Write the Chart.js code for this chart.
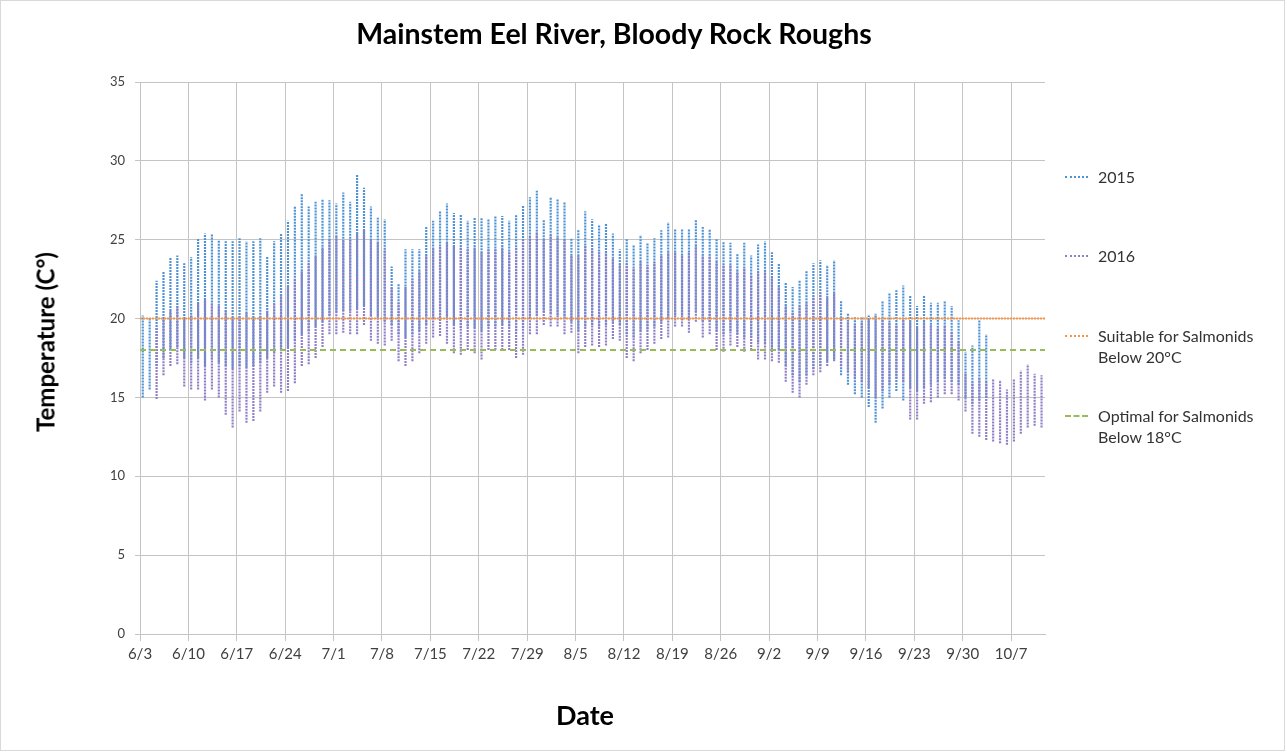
<!DOCTYPE html>
<html>
<head>
<meta charset="utf-8">
<script src="https://cdn.jsdelivr.net/npm/chart.js@4.4.0/dist/chart.umd.min.js"></script>
<style>
  body { margin: 0; background: #fff; font-family: Lato, sans-serif; }
  #wrap { position: relative; width: 1287px; height: 755px; }
  #frame { position: absolute; left: 0; top: 0; width: 1283px; height: 749px; border: 1px solid #d9d9d9; }
  .ttl { position: absolute; font-weight: bold; color: #000; white-space: nowrap; transform: translate(-50%, -50%); }
  #title { left: 614px; top: 33px; font-size: 28.5px; }
  #ytitle { left: 45px; top: 342px; font-size: 24px; transform: translate(-50%, -50%) rotate(-90deg); }
  #xtitle { left: 585px; top: 714px; font-size: 27px; }
  .leg { position: absolute; left: 1098px; font-size: 16px; line-height: 21px; color: #333; }
  .sw { position: absolute; left: 1065px; width: 23px; height: 0; border-top: 2px dotted; }
  canvas { position: absolute; left: 0; top: 0; }
</style>
</head>
<body>
<div id="wrap">
  <div id="frame"></div>
  <canvas id="chart" width="1287" height="755"></canvas>
  <div id="title" class="ttl">Mainstem Eel River, Bloody Rock Roughs</div>
  <div id="ytitle" class="ttl">Temperature (C°)</div>
  <div id="xtitle" class="ttl">Date</div>

  <div class="sw" style="top:176px; border-color:#4f93d6"></div>
  <div class="leg" style="top:166px">2015</div>
  <div class="sw" style="top:255px; border-color:#8f7fc6"></div>
  <div class="leg" style="top:245px">2016</div>
  <div class="sw" style="top:335px; border-color:#f79646"></div>
  <div class="leg" style="top:325px">Suitable for Salmonids<br>Below 20°C</div>
  <div class="sw" style="top:415px; border-color:#9bbb59; border-top-style:dashed"></div>
  <div class="leg" style="top:405px">Optimal for Salmonids<br>Below 18°C</div>
</div>
<script>
// day 0 = 6/3, one stripe per day (daily min and max)
const tickDays = [0, 7, 14, 21, 28, 35, 42, 49, 56, 63, 70, 77, 84, 91, 98, 105, 112, 119, 126];
const tickLabels = ['6/3', '6/10', '6/17', '6/24', '7/1', '7/8', '7/15', '7/22', '7/29', '8/5',
  '8/12', '8/19', '8/26', '9/2', '9/9', '9/16', '9/23', '9/30', '10/7'];

const hi2015 = [
  20.2, 20.0, 22.4, 23.0, 23.9, 24.0, 23.5, 23.9, 25.1, 25.4,
  25.4, 25.0, 24.9, 24.9, 25.1, 24.9, 24.9, 25.1, 23.9, 24.9,
  25.4, 26.2, 27.1, 27.9, 27.1, 27.4, 27.6, 27.5, 27.3, 28.0,
  27.4, 29.1, 28.3, 27.1, 26.4, 26.3, 23.3, 22.2, 24.4, 24.4,
  24.4, 25.8, 26.2, 26.8, 27.3, 26.7, 26.6, 26.2, 26.4, 26.4,
  26.3, 26.5, 26.5, 26.2, 26.6, 27.2, 27.7, 28.1, 26.3, 27.7,
  27.6, 27.4, 25.1, 25.6, 26.8, 26.3, 25.9, 26.0, 25.4, 24.4,
  25.1, 24.7, 25.3, 24.8, 25.1, 25.6, 26.1, 25.7, 25.7, 25.7,
  26.3, 25.8, 25.7, 25.1, 24.9, 24.8, 24.1, 24.8, 24.0, 24.7,
  24.9, 24.2, 23.5, 22.3, 22.0, 22.4, 23.0, 23.5, 23.7, 23.4,
  23.7, 21.1, 20.3, 20.1, 20.1, 20.2, 20.3, 21.1, 21.6, 21.8,
  22.1, 21.5, 20.8, 21.5, 21.0, 21.0, 21.1, 20.8, 19.9, 17.9,
  18.3, 19.9, 19.0, null, null, null, null, null, null, null, null
];
const lo2015 = [
  15.0, 15.5, 17.0, 17.5, 18.0, 18.2, 17.5, 17.2, 17.5, 17.0,
  17.4, 17.2, 17.0, 16.8, 17.0, 16.9, 17.0, 17.2, 17.5, 17.8,
  18.0, 18.2, 18.6, 19.0, 19.2, 19.5, 19.8, 20.2, 20.4, 20.5,
  20.5, 20.6, 20.8, 20.2, 20.0, 19.8, 19.6, 19.0, 18.8, 19.0,
  19.2, 19.6, 20.0, 20.2, 20.0, 19.6, 19.4, 19.5, 19.4, 19.2,
  19.5, 19.5, 19.6, 19.5, 19.2, 19.4, 20.0, 20.2, 20.4, 20.3,
  20.2, 20.0, 19.8, 19.2, 19.5, 19.6, 19.5, 19.6, 19.8, 19.6,
  19.0, 18.8, 19.2, 19.3, 19.5, 19.8, 20.0, 20.2, 20.2, 20.0,
  20.4, 19.8, 19.8, 19.2, 19.0, 19.2, 19.0, 18.8, 18.8, 18.5,
  18.4, 18.2, 18.0, 17.0, 16.4, 16.0, 16.4, 16.8, 17.0, 17.3,
  17.4, 16.4, 15.8, 15.2, 15.0, 14.4, 13.4, 14.3, 15.0, 15.4,
  14.8, 15.6, 15.4, 15.6, 15.8, 16.0, 16.2, 16.0, 15.8, 15.0,
  14.6, 14.8, 15.0, null, null, null, null, null, null, null, null
];
const hi2016 = [
  null, null, 19.5, 20.0, 20.5, 20.8, 20.0, 20.2, 21.0, 21.2,
  21.0, 20.8, 20.5, 20.0, 20.2, 20.4, 20.0, 20.2, 20.5, 21.0,
  21.5, 22.0, 22.5, 23.0, 23.5, 24.0, 24.5, 25.0, 25.2, 25.0,
  25.0, 25.4, 25.6, 25.0, 24.8, 24.4, 22.0, 21.0, 22.0, 22.5,
  23.0, 24.0, 24.5, 24.6, 24.8, 24.6, 24.5, 24.4, 24.5, 24.2,
  24.4, 24.4, 24.5, 24.2, 24.5, 25.0, 25.2, 25.5, 25.0, 25.3,
  25.2, 25.0, 24.0, 24.0, 24.6, 24.4, 24.2, 24.2, 23.8, 23.4,
  23.5, 23.2, 23.6, 23.4, 23.6, 24.0, 24.2, 24.2, 24.0, 24.2,
  24.6, 24.0, 24.0, 23.6, 23.4, 23.4, 23.0, 23.2, 22.8, 23.0,
  23.0, 22.6, 22.0, 20.8, 20.4, 20.8, 21.0, 21.4, 21.6, 21.4,
  21.6, 20.0, 19.8, 19.6, 19.8, 20.0, 20.2, 20.0, 19.8, 19.6,
  20.0, 19.8, 19.4, 19.8, 19.6, 19.4, 19.6, 19.2, 18.6, 16.5,
  16.0, 16.2, 16.0, 16.2, 16.1, 15.5, 16.2, 16.7, 17.1, 16.5, 16.4
];
const lo2016 = [
  null, null, 14.9, 16.4, 17.0, 17.1, 15.7, 15.5, 15.5, 14.8,
  15.5, 15.0, 13.9, 13.1, 14.1, 13.4, 13.5, 14.1, 15.3, 15.7,
  15.3, 15.4, 15.9, 17.0, 17.1, 17.5, 18.2, 19.0, 19.0, 19.1,
  19.0, 19.0, 19.6, 18.6, 18.4, 18.3, 18.6, 17.3, 17.0, 17.3,
  17.8, 18.4, 18.8, 18.9, 18.4, 17.8, 17.7, 18.0, 17.8, 17.4,
  18.0, 18.0, 18.0, 18.0, 17.5, 17.7, 19.0, 19.0, 19.6, 19.5,
  19.5, 19.0, 19.1, 17.8, 18.2, 18.3, 18.2, 18.3, 18.7, 18.6,
  17.5, 17.3, 17.8, 18.0, 18.4, 18.7, 18.8, 19.5, 19.5, 19.1,
  19.8, 18.8, 19.0, 18.0, 17.9, 18.3, 18.2, 17.9, 18.0, 17.4,
  17.4, 17.3, 17.2, 16.0, 15.3, 15.0, 15.8, 16.4, 16.6, 17.0,
  17.3, 17.0, 16.6, 16.2, 16.0, 15.6, 15.0, 15.4, 15.8, 16.2,
  16.0, 13.6, 13.6, 14.6, 14.7, 15.0, 15.2, 15.2, 14.8, 14.1,
  12.7, 12.5, 12.3, 12.2, 12.1, 12.0, 12.2, 12.7, 13.1, 13.2, 13.1
];

const suitableLimit = 20;
const optimalLimit = 18;
const xMax = 130.9;

// each day is one vertical segment from min to max, days not joined
function stripes(lo, hi) {
  const pts = [];
  lo.forEach((v, d) => {
    if (v === null || hi[d] === null) return;
    pts.push({ x: d + 0.4, y: v }, { x: d + 0.4, y: hi[d] }, { x: d + 0.4, y: null });
  });
  return pts;
}

Chart.defaults.font.family = 'Lato, sans-serif';

const chart = new Chart(document.getElementById('chart'), {
  type: 'line',
  data: {
    datasets: [
      {
        label: '2015',
        data: stripes(lo2015, hi2015),
        borderColor: '#4f93d6',
        borderWidth: 2.2,
        borderDash: [2, 1],
        pointRadius: 0,
        spanGaps: false,
        order: 3,
      },
      {
        label: '2016',
        data: stripes(lo2016, hi2016),
        borderColor: '#8f7fc6',
        borderWidth: 2.2,
        borderDash: [2, 1],
        pointRadius: 0,
        spanGaps: false,
        order: 2,
      },
      {
        label: 'Suitable for Salmonids Below 20°C',
        data: [{ x: 0, y: suitableLimit }, { x: xMax, y: suitableLimit }],
        borderColor: '#f79646',
        borderWidth: 2,
        borderDash: [2, 1],
        pointRadius: 0,
        order: 1,
      },
      {
        label: 'Optimal for Salmonids Below 18°C',
        data: [{ x: 0, y: optimalLimit }, { x: xMax, y: optimalLimit }],
        borderColor: '#9bbb59',
        borderWidth: 2,
        borderDash: [6, 4],
        pointRadius: 0,
        order: 0,
      },
    ],
  },
  options: {
    responsive: false,
    animation: false,
    devicePixelRatio: 1,
    layout: { padding: { top: 82, right: 242, bottom: 0, left: 0 } },
    plugins: {
      legend: { display: false },
      tooltip: { enabled: false },
      title: { display: false },
    },
    scales: {
      x: {
        type: 'linear',
        min: 0,
        max: xMax,
        afterBuildTicks: (axis) => { axis.ticks = tickDays.map(v => ({ value: v })); },
        afterFit: (axis) => { axis.height = 121; },
        ticks: {
          callback: (v, i) => tickLabels[i],
          autoSkip: false,
          maxRotation: 0,
          color: '#404040',
          font: { size: 15 },
          padding: 4,
        },
        grid: { color: '#c4c4c4', tickLength: 7 },
        border: { color: '#c4c4c4' },
      },
      y: {
        min: 0,
        max: 35,
        afterFit: (axis) => { axis.width = 140; },
        ticks: { stepSize: 5, color: '#404040', font: { size: 13 }, padding: 10 },
        grid: { color: '#c4c4c4', tickLength: 5 },
        border: { color: '#c4c4c4' },
      },
    },
  },
});
</script>
</body>
</html>
